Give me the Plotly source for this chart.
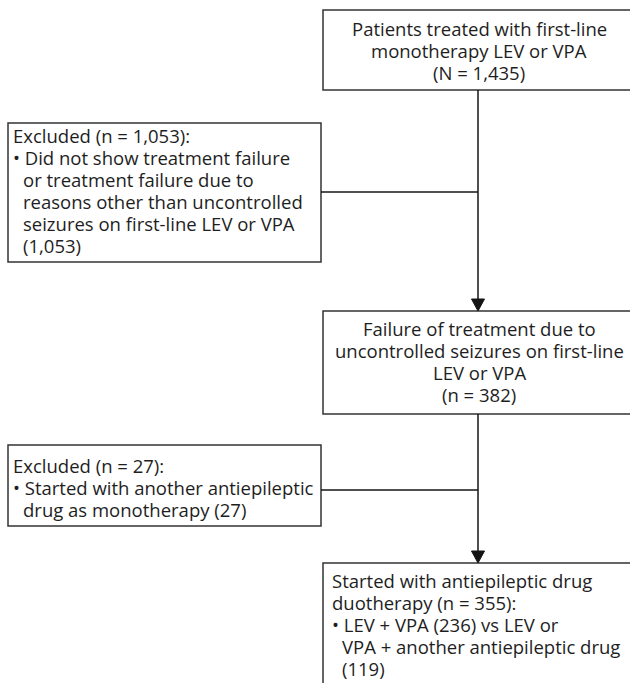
import plotly.graph_objects as go

# ---- Flowchart content ----
box1_lines = ["Patients treated with first-line", "monotherapy LEV or VPA", "(N = 1,435)"]
box2_header = ["Excluded (n = 1,053):"]
box2_bullet = ["Did not show treatment failure", "or treatment failure due to",
               "reasons other than uncontrolled", "seizures on first-line LEV or VPA", "(1,053)"]
box3_lines = ["Failure of treatment due to", "uncontrolled seizures on first-line",
              "LEV or VPA", "(n = 382)"]
box4_header = ["Excluded (n = 27):"]
box4_bullet = ["Started with another antiepileptic", "drug as monotherapy (27)"]
box5_header = ["Started with antiepileptic drug", "duotherapy (n = 355):"]
box5_bullet = ["LEV + VPA (236) vs LEV or", "VPA + another antiepileptic drug", "(119)"]

W, H = 630, 683
FONT = "Open Sans"
FS = 18.5
LH = 22.0
TXT = "#1e1e1e"
LINE = "#141414"

fig = go.Figure()
shapes = []
annotations = []

def rect(x0, y0, x1, y1):
    shapes.append(dict(type="rect", xref="x", yref="y", x0=x0, y0=y0, x1=x1, y1=y1,
                       line=dict(color="#333333", width=1.5), fillcolor="white", layer="below"))

def seg(x0, y0, x1, y1):
    shapes.append(dict(type="line", xref="x", yref="y", x0=x0, y0=y0, x1=x1, y1=y1,
                       line=dict(color=LINE, width=1.5)))

def arrowhead(x, ytip, w=13, h=12):
    shapes.append(dict(type="path", xref="x", yref="y",
                       path=f"M {x-w/2},{ytip-h} L {x+w/2},{ytip-h} L {x},{ytip} Z",
                       fillcolor=LINE, line=dict(color=LINE, width=1)))

def text(s, x, y, anchor):
    annotations.append(dict(text=s, x=x, y=y, xref="x", yref="y", xanchor=anchor,
                            yanchor="middle", showarrow=False,
                            font=dict(family=FONT, size=FS, color=TXT)))

def lines_block(lines, x, y0, anchor):
    for i, s in enumerate(lines):
        text(s, x, y0 + i * LH, anchor)
    return y0 + len(lines) * LH

def bullet_block(lines, xb, xt, y0):
    text("• " + lines[0], xb, y0, "left")
    return lines_block(lines[1:], xt, y0 + LH, "left")

CX = 478  # main column connector x

# Box 1
rect(323, 10, 645, 90)
lines_block(box1_lines, CX + 1, 28, "center")

# Box 2
rect(8, 123, 321, 262)
y = lines_block(box2_header, 11, 135, "left")
bullet_block(box2_bullet, 11, 21, y)

# Box 3
rect(323, 311, 645, 414)
lines_block(box3_lines, CX + 1, 328.5, "center")

# Box 4
rect(8, 445, 321, 526)
y = lines_block(box4_header, 11, 465, "left")
bullet_block(box4_bullet, 11, 21, y)

# Box 5
rect(323, 563, 645, 700)
y = lines_block(box5_header, 330, 580, "left")
bullet_block(box5_bullet, 330, 340, y)

# Connectors
seg(CX, 90, CX, 300)
seg(321, 192, CX, 192)
arrowhead(CX, 311)
seg(CX, 414, CX, 552)
seg(321, 490, CX, 490)
arrowhead(CX, 563)

fig.update_layout(
    width=W, height=H,
    margin=dict(l=0, r=0, t=0, b=0),
    paper_bgcolor="white", plot_bgcolor="white",
    xaxis=dict(range=[0, W], visible=False, fixedrange=True),
    yaxis=dict(range=[H, 0], visible=False, fixedrange=True),
    shapes=shapes, annotations=annotations, showlegend=False,
)

fig.write_html("out.html", config={"displayModeBar": False})

# remove default page margin so the figure sits at the window's top-left corner
with open("out.html", encoding="utf-8") as f:
    html = f.read()
html = html.replace("<head>", "<head><style>html,body{margin:0;padding:0;overflow:hidden;}</style>", 1)
with open("out.html", "w", encoding="utf-8") as f:
    f.write(html)
